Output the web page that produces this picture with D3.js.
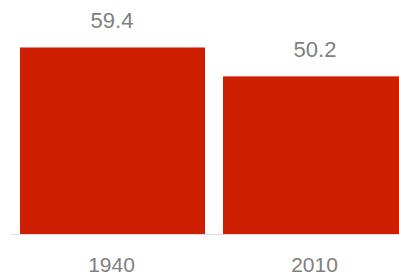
<!DOCTYPE html>
<html>
<head>
<meta charset="utf-8">
<script src="https://cdn.jsdelivr.net/npm/d3@7"></script>
<style>
  body { margin: 0; background: #fff; }
  svg { display: block; font-family: Arial, "Liberation Sans", sans-serif; }
</style>
</head>
<body>
<div id="chart"></div>
<script>
var years = ["1940", "2010"];
var values = [59.4, 50.2];

var width = 399, height = 276;
var baseY = 234;

var svg = d3.select("#chart")
	.append("svg")
	.attr("width", width)
	.attr("height", height);

// bars run past the right edge like in the original
var x = d3.scaleBand()
	.domain(years)
	.range([20, 408])
	.paddingInner(18 / 203)
	.paddingOuter(0);

var y = d3.scaleLinear()
	.domain([0, 70])
	.range([baseY, baseY - 70 * 3.14]);

var data = years.map(function(d, i) { return { year: d, value: values[i] }; });

svg.selectAll(".bar")
	.data(data)
	.enter().append("rect")
	.attr("class", "bar")
	.attr("x", function(d) { return x(d.year); })
	.attr("y", function(d) { return y(d.value); })
	.attr("width", x.bandwidth())
	.attr("height", function(d) { return baseY - y(d.value); })
	.style("fill", "#cd1f00");

// baseline
svg.append("line")
	.attr("x1", 11)
	.attr("x2", width)
	.attr("y1", baseY + 0.5)
	.attr("y2", baseY + 0.5)
	.style("stroke", "#dddddd")
	.style("stroke-width", 1);

// value labels
svg.selectAll(".val")
	.data(data)
	.enter().append("text")
	.attr("class", "val")
	.attr("x", function(d) { return x(d.year) + x.bandwidth() / 2 - 0.5; })
	.attr("y", function(d) { return y(d.value) - 19.5; })
	.attr("text-anchor", "middle")
	.style("font-size", "22px")
	.style("fill", "#808080")
	.text(function(d) { return d.value.toFixed(1); });

// category axis
var xAxis = d3.axisBottom(x).tickSize(0).tickPadding(0);
var gx = svg.append("g")
	.attr("transform", "translate(-1," + baseY + ")")
	.call(xAxis);
gx.select(".domain").remove();
gx.selectAll("text")
	.attr("dy", null)
	.attr("y", 38)
	.style("font-family", "Arial, 'Liberation Sans', sans-serif")
	.style("font-size", "21px")
	.style("fill", "#808080");
</script>
</body>
</html>
